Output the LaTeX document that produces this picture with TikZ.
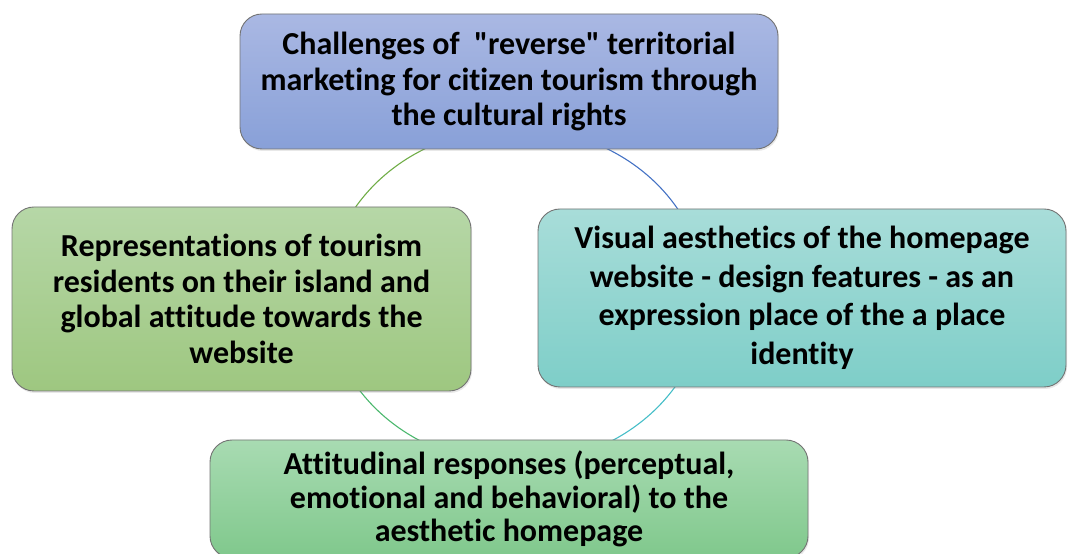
\documentclass[tikz,border=0pt]{standalone}
\usepackage{fontspec}
\newfontfamily\calfont{Carlito}[Ligatures={NoCommon}]
\usetikzlibrary{shadows}
\definecolor{topA}{RGB}{170,184,227}
\definecolor{topB}{RGB}{136,160,216}
\definecolor{leftA}{RGB}{182,215,167}
\definecolor{leftB}{RGB}{158,199,128}
\definecolor{rightA}{RGB}{168,221,217}
\definecolor{rightB}{RGB}{126,206,200}
\definecolor{botA}{RGB}{168,219,178}
\definecolor{botB}{RGB}{128,200,140}
\definecolor{arcTL}{RGB}{112,173,71}
\definecolor{arcTR}{RGB}{68,114,196}
\definecolor{arcBR}{RGB}{70,190,200}
\definecolor{arcBL}{RGB}{76,184,110}
\begin{document}
\begin{tikzpicture}[x=1pt,y=1pt,
  box/.style={rectangle, rounded corners=22pt, draw=black!55, line width=0.9pt,
    align=center, inner sep=0pt, font=\calfont\bfseries\fontsize{32}{35.5}\selectfont,
    drop shadow={opacity=0.18, shadow xshift=1pt, shadow yshift=-2pt}},
  cyc/.style={line width=1.1pt}]
\useasboundingbox (0,0) rectangle (1068,554);
\coordinate (c) at (516,258);
\draw[cyc, arcTR] (c) ++(90:189 and 168) arc[start angle=90, end angle=0, x radius=189, y radius=168];
\draw[cyc, arcBR] (c) ++(0:189 and 168) arc[start angle=0, end angle=-90, x radius=189, y radius=168];
\draw[cyc, arcBL] (c) ++(270:189 and 168) arc[start angle=270, end angle=180, x radius=189, y radius=168];
\draw[cyc, arcTL] (c) ++(180:189 and 168) arc[start angle=180, end angle=90, x radius=189, y radius=168];
\node[box, minimum width=538pt, minimum height=135pt, top color=topA, bottom color=topB] (top) at (509,472.5)
  {Challenges of \ "reverse" territorial\\marketing for citizen tourism through\\the cultural rights};
\node[box, minimum width=459pt, minimum height=184pt, top color=leftA, bottom color=leftB] (left) at (241.5,255)
  {Representations of tourism\\residents on their island and\\global attitude towards the\\website};
\node[box, minimum width=528pt, minimum height=178pt, top color=rightA, bottom color=rightB,
  font=\calfont\bfseries\fontsize{32}{38.5}\selectfont] (right) at (802,256)
  {Visual aesthetics of the homepage\\website - design features - as an\\expression place of the a place\\identity};
\node[box, minimum width=598pt, minimum height=118pt, top color=botA, bottom color=botB,
  font=\calfont\bfseries\fontsize{32}{33.5}\selectfont] (bot) at (509,55)
  {Attitudinal responses (perceptual,\\emotional and behavioral) to the\\aesthetic homepage};
\end{tikzpicture}
\end{document}
